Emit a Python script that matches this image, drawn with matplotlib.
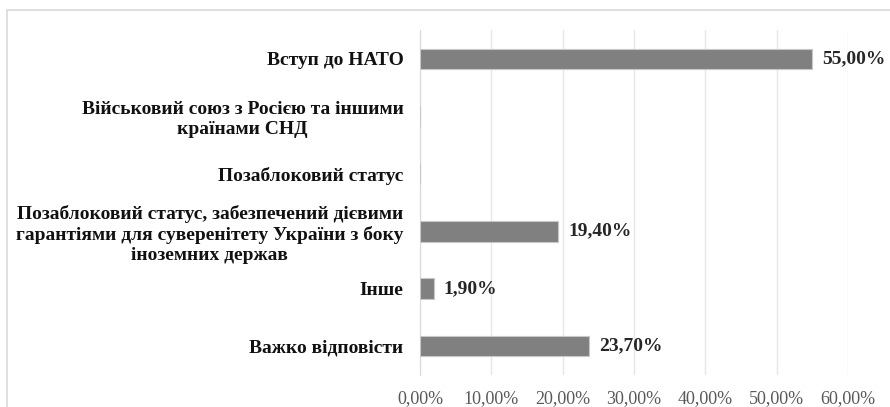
import matplotlib
matplotlib.use("Agg")
import matplotlib.pyplot as plt
from matplotlib.patches import Rectangle

categories = [
    "Вступ до НАТО",
    "Військовий союз з Росією та іншими\nкраїнами СНД",
    "Позаблоковий статус",
    "Позаблоковий статус, забезпечений дієвими\nгарантіями для суверенітету України з боку\nіноземних держав",
    "Інше",
    "Важко відповісти",
]
values = [55.0, 0.0, 0.0, 19.4, 1.9, 23.7]
ticks = [0, 10, 20, 30, 40, 50, 60]

plt.rcParams["font.family"] = ["Liberation Serif", "DejaVu Serif"]

fig = plt.figure(figsize=(8.9, 4.07), dpi=100)
ax = fig.add_axes([0.472, 0.079, 0.481, 0.847])

# light frame of the chart area (only top/left visible in the crop)
fig.patches.append(Rectangle((7 / 890, -0.1), 1.2, 1 - 10 / 407 + 0.1,
                             transform=fig.transFigure, fill=False,
                             edgecolor="#d9d9d9", linewidth=1.2))

y = list(range(len(categories)))
ax.barh(y, values, height=0.36, color="#808080", edgecolor="#c8c8c8", linewidth=0.8, zorder=3)

for yi, v in zip(y, values):
    if v > 0:
        ax.text(v + 1.4, yi, f"{v:.2f}%".replace(".", ","), va="center", ha="left",
                fontsize=14, fontweight="bold", color="#262626")

ax.set_xlim(0, 60)
ax.set_ylim(len(categories) - 0.5, -0.5)
ax.set_xticks(ticks)
ax.set_xticklabels([f"{t:.2f}%".replace(".", ",") for t in ticks], fontsize=13, color="#595959")
ax.set_yticks(y)
ax.set_yticklabels(categories, fontsize=14, fontweight="bold", color="#111111",
                   multialignment="center", linespacing=1.2)
ax.tick_params(axis="y", length=0, pad=12)
ax.tick_params(axis="x", length=0, pad=11)

ax.grid(axis="x", color="#e6e6e6", linewidth=1, zorder=0)
for s in ["top", "right", "bottom"]:
    ax.spines[s].set_visible(False)
ax.spines["left"].set_color("#d9d9d9")

fig.savefig("out.png", dpi=100)
